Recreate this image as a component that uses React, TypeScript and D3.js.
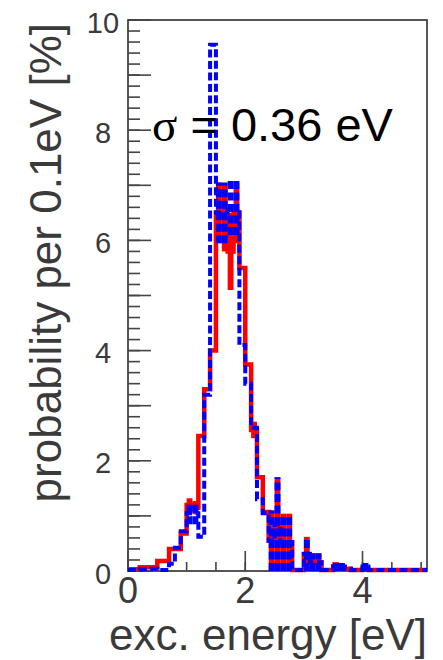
import React from "react";
import * as d3 from "d3";

// bin lower edges: 0.0, 0.1, ... 5.0 (bin width 0.1 eV)
const binWidth = 0.1;
const redValues = [
  0.03, 0.03, 0.07, 0.07, 0.07, 0.18, 0.18, 0.4, 0.4, 0.68,
  1.2, 1.15, 2.45, 3.3, 4.0, 6.5, 6.4, 5.8, 6.5, 5.5,
  3.75, 2.56, 1.7, 1.07, 0.55, 0.85, 0.52, 0.52, 0.02, 0.02,
  0.31, 0.16, 0.16, 0.02, 0.02, 0.08, 0.04, 0.04, 0.02, 0.02,
  0.04, 0.02, 0.02, 0.02, 0.02, 0.02, 0.02, 0.02, 0.02, 0.02, 0.02,
];
const redErrors = [
  0, 0, 0, 0, 0, 0, 0, 0, 0, 0,
  0.12, 0.12, 0, 0, 0, 0.55, 0.6, 0.7, 0.55, 0,
  0, 0.15, 0, 0, 0.55, 0.85, 0.52, 0.52, 0, 0,
  0.31, 0.16, 0.16, 0, 0, 0.08, 0, 0, 0, 0,
  0, 0, 0, 0, 0, 0, 0, 0, 0, 0, 0,
];
const blueValues = [
  0.02, 0.02, 0.03, 0.03, 0.04, 0.02, 0.02, 0.13, 0.42, 0.72,
  1.05, 1.05, 0.62, 3.2, 9.55, 6.5, 6.5, 6.6, 6.6, 4.1,
  3.4, 2.6, 1.3, 1.05, 0.55, 0.85, 0.52, 0.52, 0.02, 0.02,
  0.31, 0.16, 0.16, 0.02, 0.02, 0.08, 0.08, 0.04, 0.02, 0.02,
  0.08, 0.02, 0.02, 0.02, 0.02, 0.02, 0.02, 0.02, 0.02, 0.02, 0.02,
];
const blueErrors = [
  0, 0, 0, 0, 0, 0, 0, 0, 0, 0,
  0.2, 0.2, 0, 0, 0, 0.55, 0.55, 0.5, 0.5, 0,
  0, 0, 0, 0, 0.55, 0.85, 0.52, 0.52, 0, 0,
  0.31, 0.16, 0.16, 0, 0, 0.08, 0.08, 0, 0, 0,
  0.08, 0, 0, 0, 0, 0, 0, 0, 0, 0, 0,
];

const xTickLabels = [0, 2, 4];
const yTickLabels = [0, 2, 4, 6, 8, 10];
const xTitle = "exc. energy [eV]";
const yTitle = "probability per 0.1eV [%]";
const sigmaLabel = "= 0.36 eV";

const W = 443;
const H = 660;
const left = 128, right = 427, top = 20, bottom = 571;

export default function App() {
  const x = d3.scaleLinear().domain([0, 5.1]).range([left, right]);
  const y = d3.scaleLinear().domain([0, 10]).range([bottom, top]);

  const stepPath = (vals: number[]) => {
    const pts: [number, number][] = vals.map((v, i) => [i * binWidth, v]);
    pts.push([vals.length * binWidth, vals[vals.length - 1]]);
    return d3
      .line<[number, number]>()
      .x((d) => x(d[0]))
      .y((d) => y(d[1]))
      .curve(d3.curveStepAfter)(pts) as string;
  };

  const bw = x(binWidth) - x(0);
  const gray = "#444";
  const textColor = "#3a3a3a";

  const yMinor = d3.range(0, 10.001, 0.2);
  const yMajor = d3.range(0, 10.001, 1);
  const xMinor = d3.range(0, 5.001, 0.5);
  const xMajor = [0, 2, 4];

  return (
    <svg
      width={W}
      height={H}
      style={{ position: "absolute", left: 0, top: 0, background: "#fff" }}
      fontFamily="'Liberation Sans', Arial, sans-serif"
    >
      <defs>
        <clipPath id="plotClip">
          <rect x={left - 2} y={top} width={right - left + 2} height={bottom - top + 3} />
        </clipPath>
      </defs>
      <rect x={0} y={0} width={W} height={H} fill="#fff" />

      {/* ticks */}
      <g stroke={gray} strokeWidth={1.6}>
        {yMinor.map((v, i) => (
          <line key={"ym" + i} x1={left} x2={left + 12} y1={y(v)} y2={y(v)} />
        ))}
        {yMajor.map((v, i) => (
          <line key={"yM" + i} x1={left} x2={left + 23} y1={y(v)} y2={y(v)} />
        ))}
        {xMinor.map((v, i) => (
          <line key={"xm" + i} x1={x(v)} x2={x(v)} y1={bottom} y2={bottom - 9} />
        ))}
        {xMajor.map((v, i) => (
          <line key={"xM" + i} x1={x(v)} x2={x(v)} y1={bottom} y2={bottom - 20} />
        ))}
      </g>
      {/* frame */}
      <rect
        x={left}
        y={top}
        width={right - left}
        height={bottom - top}
        fill="none"
        stroke={gray}
        strokeWidth={1.8}
      />

      <g clipPath="url(#plotClip)">
        {/* red error bands */}
        {redValues.map((v, i) =>
          redErrors[i] > 0 ? (
            <rect
              key={"re" + i}
              x={x(i * binWidth)}
              width={bw}
              y={y(v + redErrors[i])}
              height={y(Math.max(0, v - redErrors[i])) - y(v + redErrors[i])}
              fill="#ff0000"
            />
          ) : null
        )}
        <path d={stepPath(redValues)} fill="none" stroke="#ff0000" strokeWidth={4.5} />
        {/* blue error bands (dashed thick bars) */}
        {blueValues.map((v, i) =>
          blueErrors[i] > 0 ? (
            <line
              key={"be" + i}
              x1={x((i + 0.5) * binWidth)}
              x2={x((i + 0.5) * binWidth)}
              y1={y(Math.max(0, v - blueErrors[i]))}
              y2={y(v + blueErrors[i])}
              stroke="#0000ff"
              strokeWidth={bw}
              strokeDasharray="8 3.5"
            />
          ) : null
        )}
        <path
          d={stepPath(blueValues)}
          fill="none"
          stroke="#0000ff"
          strokeWidth={4}
          strokeDasharray="8 3.5"
        />
      </g>

      {/* tick labels */}
      <g fill={textColor}>
        {yTickLabels.map((v) => (
          <text key={"yl" + v} x={103} y={y(v) + 12.5} fontSize={29} textAnchor="middle">
            {v}
          </text>
        ))}
        {xTickLabels.map((v) => (
          <text key={"xl" + v} x={x(v)} y={603} fontSize={36} textAnchor="middle">
            {v}
          </text>
        ))}
        <text x={right} y={650} fontSize={44} textAnchor="end">
          {xTitle}
        </text>
        <text
          transform={`translate(61, 23) rotate(-90)`}
          fontSize={44}
          textAnchor="end"
        >
          {yTitle}
        </text>
      </g>

      {/* sigma annotation */}
      <text x={152} y={141} fontSize={47} fill="#000">
        <tspan fontFamily="'Liberation Serif', 'DejaVu Serif', serif">σ</tspan>
        <tspan> {sigmaLabel}</tspan>
      </text>
    </svg>
  );
}
